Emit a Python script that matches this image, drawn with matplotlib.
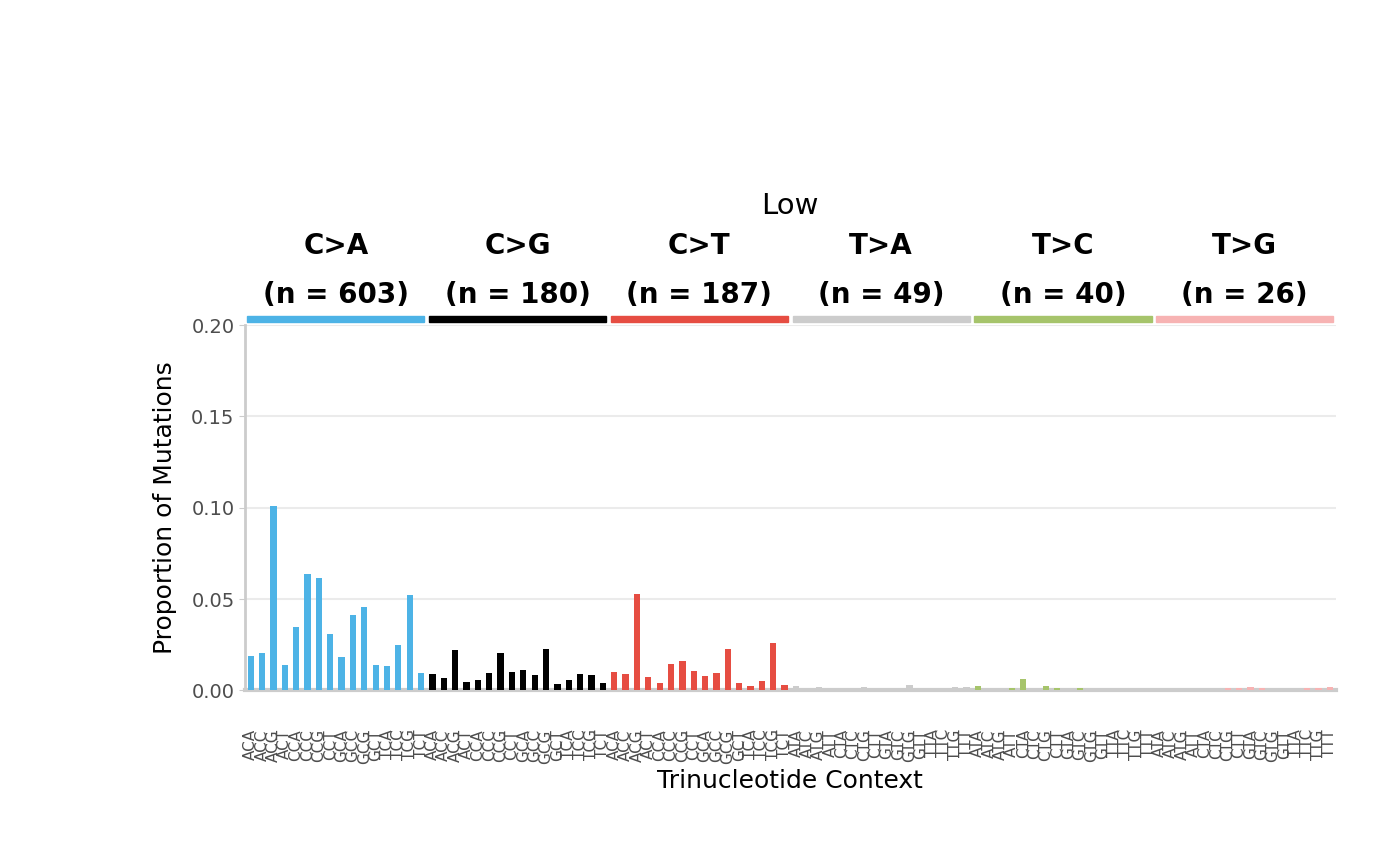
import matplotlib
matplotlib.use("Agg")
import matplotlib.pyplot as plt
from matplotlib.transforms import blended_transform_factory
from matplotlib.patches import Rectangle

groups = ["C>A", "C>G", "C>T", "T>A", "T>C", "T>G"]
counts = [603, 180, 187, 49, 40, 26]
colors = ["#4db3e6", "#000000", "#e64d42", "#cccccc", "#a6c46b", "#f7b3b3"]
bases = ["A", "C", "G", "T"]

ca = [0.0186, 0.0203, 0.101, 0.0137, 0.0345, 0.0635, 0.0613, 0.0307,
      0.018, 0.041, 0.0454, 0.0137, 0.0131, 0.0246, 0.052, 0.0093]
cg = [0.0088, 0.0066, 0.0219, 0.0044, 0.0055, 0.0093, 0.0203, 0.0099,
      0.011, 0.0082, 0.0224, 0.0033, 0.0055, 0.0088, 0.0082, 0.0038]
ct = [0.0099, 0.0088, 0.0525, 0.0072, 0.0039, 0.0144, 0.016, 0.0105,
      0.0077, 0.0094, 0.0227, 0.0039, 0.0022, 0.005, 0.026, 0.0028]
ta = [0.0022, 0, 0.0017, 0.0011, 0.0011, 0.0011, 0.0017, 0.0011,
      0, 0, 0.0028, 0.0011, 0.0011, 0.0011, 0.0017, 0.0017]
tc = [0.0022, 0, 0, 0.0011, 0.0061, 0, 0.0022, 0.0011,
      0, 0.0011, 0, 0, 0, 0, 0, 0]
tg = [0, 0, 0, 0, 0, 0, 0.0011, 0.0011,
      0.0017, 0.0011, 0, 0, 0, 0.0011, 0.0011, 0.0017]
values = [ca, cg, ct, ta, tc, tg]

fig = plt.figure(figsize=(14, 8.65), dpi=100)
ax = fig.add_axes([0.175, 0.202, 0.779, 0.422])

labels = []
x = 0
for gi, (g, vals) in enumerate(zip(groups, values)):
    mid = g[0]
    xs = list(range(x, x + 16))
    ax.bar(xs, vals, width=0.55, color=colors[gi], zorder=3)
    for a in bases:
        for b in bases:
            labels.append(a + mid + b)
    x += 16

ax.set_xlim(-0.5, 95.5)
ax.set_ylim(0, 0.2)
ax.set_yticks([0, 0.05, 0.10, 0.15, 0.20])
ax.set_yticklabels(["0.00", "0.05", "0.10", "0.15", "0.20"], fontsize=14, color="#4d4d4d")
ax.set_xticks(range(96))
ax.set_xticklabels(labels, rotation=90, fontsize=11, color="#4d4d4d")
ax.tick_params(axis="x", length=0, pad=28)
ax.tick_params(axis="y", length=4, color="#cccccc")
ax.grid(axis="y", color="#ebebeb", linewidth=1.5, zorder=0)
for s in ["top", "right"]:
    ax.spines[s].set_visible(False)
ax.spines["left"].set_color("#cccccc")
ax.spines["left"].set_linewidth(2)
ax.spines["bottom"].set_color("#cccccc")
ax.spines["bottom"].set_linewidth(3)
ax.set_ylabel("Proportion of Mutations", fontsize=18, labelpad=10)
ax.set_xlabel("Trinucleotide Context", fontsize=18, labelpad=4)

tr = blended_transform_factory(ax.transData, ax.transAxes)
for gi, g in enumerate(groups):
    x0 = gi * 16 - 0.5
    ax.add_patch(Rectangle((x0 + 0.2, 1.008), 15.6, 0.018, transform=tr,
                           color=colors[gi], clip_on=False))
    ax.text(x0 + 8, 1.082, f"(n = {counts[gi]})", transform=tr, ha="center",
            va="center", fontsize=20, fontweight="bold")
    ax.text(x0 + 8, 1.216, g, transform=tr, ha="center", va="center",
            fontsize=20, fontweight="bold")
ax.text(0.5, 1.326, "Low", transform=ax.transAxes, ha="center", va="center", fontsize=21)

fig.savefig("out.png", dpi=100)
